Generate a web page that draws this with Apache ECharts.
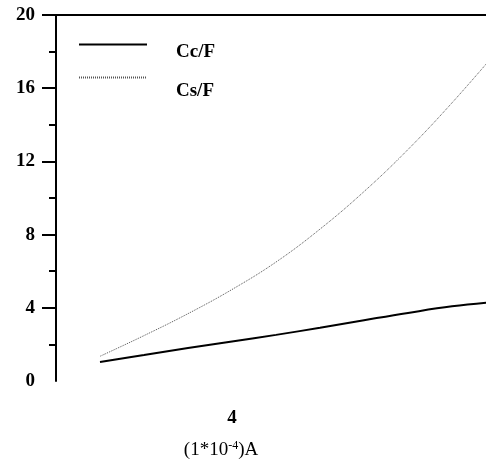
<!DOCTYPE html>
<html>
<head>
<meta charset="utf-8">
<script src="https://cdn.jsdelivr.net/npm/echarts@6/dist/echarts.min.js"></script>
<style>
  html, body { margin: 0; padding: 0; background: #fff; }
  #chart { width: 486px; height: 464px; }
</style>
</head>
<body>
<div id="chart"></div>
<script>
// x in units of 1e-4 A
var xValues = [1, 2, 3, 4, 5, 6, 7, 8, 9, 10];
var ccValues = [1.04, 1.42, 1.80, 2.16, 2.52, 2.91, 3.32, 3.72, 4.08, 4.32];
var csValues = [1.35, 2.48, 3.68, 5.00, 6.50, 8.30, 10.35, 12.65, 15.20, 17.95];
var yTicks = [4, 8, 12, 16, 20];
var xTicks = [4];

function pairs(ys) {
    return xValues.map(function (x, i) { return [x, ys[i]]; });
}

var serif = 'Liberation Serif';
var chart = echarts.init(document.getElementById('chart'));

// one legend per series so each label can sit a little below its line
function legendFor(name, top, lineH) {
    return {
        orient: 'vertical',
        left: 78,
        top: top,
        padding: 0,
        itemWidth: 68,
        itemHeight: 14,
        itemStyle: { opacity: 0 },
        formatter: '{t|{name}}',
        textStyle: {
            fontFamily: serif,
            fontWeight: 'bold',
            fontSize: 19,
            color: '#000',
            padding: [0, 0, 0, 24],
            rich: {
                t: {
                    fontFamily: serif,
                    fontWeight: 'bold',
                    fontSize: 19,
                    color: '#000',
                    lineHeight: lineH,
                    verticalAlign: 'bottom'
                }
            }
        },
        data: [name]
    };
}

var option = {
    backgroundColor: '#fff',
    animation: false,
    grid: { left: 56, top: 15, width: 440, height: 366, outerBoundsMode: 'none' },
    legend: [
        legendFor('Cc/F', 39, 33),
        legendFor('Cs/F', 72, 45)
    ],
    xAxis: [{
        type: 'value',
        min: 0,
        max: 10,
        interval: 1,
        axisLine: { show: false },
        axisTick: { show: false },
        splitLine: { show: false },
        axisLabel: {
            customValues: xTicks,
            margin: 28,
            fontFamily: serif,
            fontWeight: 'bold',
            fontSize: 19,
            color: '#000'
        },
        name: '(1*10{sup|-4})A',
        nameLocation: 'middle',
        nameGap: 59,
        nameTextStyle: {
            fontFamily: serif,
            fontSize: 19,
            color: '#000',
            padding: [0, 110, 0, 0],
            rich: {
                sup: { fontFamily: serif, fontSize: 12, verticalAlign: 'top', padding: [0, 0, 9, 0], color: '#000' }
            }
        }
    }, {
        type: 'value',
        position: 'top',
        min: 0,
        max: 10,
        axisLine: { show: true, onZero: false, lineStyle: { color: '#000', width: 2 } },
        axisTick: { show: false },
        axisLabel: { show: false },
        splitLine: { show: false }
    }],
    yAxis: {
        type: 'value',
        min: 0,
        max: 20,
        interval: 4,
        axisLine: { show: true, lineStyle: { color: '#000', width: 2 } },
        axisTick: {
            show: true,
            customValues: yTicks,
            length: 14,
            lineStyle: { color: '#000', width: 2 }
        },
        minorTick: {
            show: true,
            splitNumber: 2,
            length: 7,
            lineStyle: { color: '#000', width: 2 }
        },
        splitLine: { show: false },
        axisLabel: {
            margin: 21,
            fontFamily: serif,
            fontWeight: 'bold',
            fontSize: 19,
            color: '#000',
            padding: [8, 0, 0, 0]
        }
    },
    series: [{
        name: 'Cc/F',
        type: 'line',
        smooth: 0.4,
        symbol: 'none',
        lineStyle: { color: '#000', width: 2 },
        itemStyle: { color: '#000' },
        data: pairs(ccValues)
    }, {
        name: 'Cs/F',
        type: 'line',
        smooth: 0.4,
        symbol: 'none',
        lineStyle: { color: '#555', width: 1, type: [1, 1] },
        itemStyle: { color: '#555' },
        data: pairs(csValues)
    }]
};

chart.setOption(option);
</script>
</body>
</html>
